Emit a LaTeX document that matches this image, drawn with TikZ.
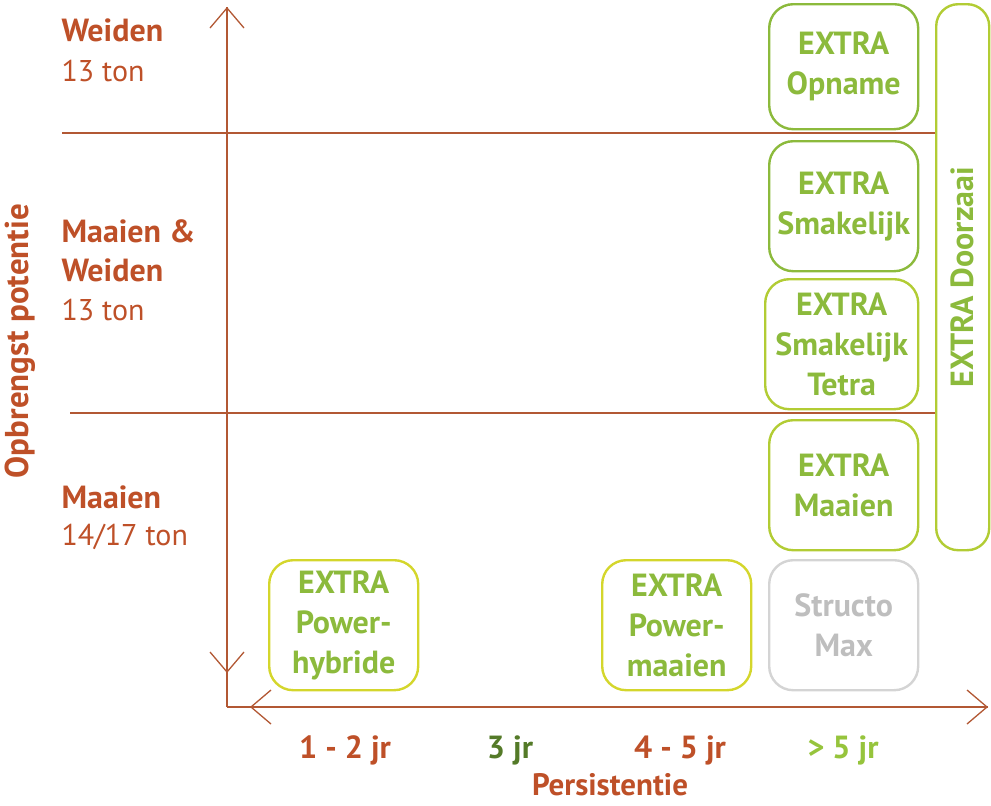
\documentclass[tikz,border=0pt]{standalone}
\usepackage{fontspec}
\setmainfont{PT Sans}
\usetikzlibrary{arrows.meta}
\definecolor{axisbrown}{RGB}{178,88,52}
\definecolor{labelorange}{RGB}{190,80,40}
\definecolor{extragreen}{RGB}{140,186,60}
\definecolor{darkgreen}{RGB}{84,122,40}
\definecolor{lightgreen}{RGB}{150,196,60}
\definecolor{boxgreen}{RGB}{140,186,60}
\definecolor{boxlime}{RGB}{178,204,52}
\definecolor{boxyellow}{RGB}{212,214,44}
\definecolor{boxgrey}{RGB}{212,212,212}
\definecolor{textgrey}{RGB}{190,190,190}

\tikzset{
  axis/.style={axisbrown, line width=1.3pt},
  barb/.style={-{Straight Barb[length=20pt,width=34pt,line width=1.3pt]}},
  mixbox/.style={draw=#1, line width=2.4pt, rounded corners=24pt, anchor=north west,
    inner sep=0pt, align=center, text=extragreen, font=\fontsize{32}{40}\selectfont\bfseries},
  rowhead/.style={anchor=west, labelorange, font=\fontsize{32}{39}\selectfont\bfseries, align=left},
  rowsub/.style={anchor=west, labelorange, font=\fontsize{30}{39}\selectfont},
  tick/.style={inner sep=1pt, font=\fontsize{32}{36}\selectfont\bfseries}
}

\begin{document}
\begin{tikzpicture}[x=1pt, y=-1pt]
        \useasboundingbox (0,0) rectangle (991,806);

        % Axes
        \coordinate (corner) at (227,707);
        \coordinate (ydown) at (227,673);
        \coordinate (yup) at (227,7);
        \coordinate (xleft) at (250,707);
        \coordinate (xright) at (988,707);
        \draw[axis] (corner) -- (ydown);
        \draw[axis] (corner) -- (xleft);
        \draw[axis, barb] (ydown) -- (yup);
        \draw[axis, barb] (yup) -- (ydown);
        \draw[axis, barb] (xleft) -- (xright);
        \draw[axis, barb] (xright) -- (xleft);

        % Mixtures
        \node[mixbox=boxgreen, minimum width=149pt, minimum height=125pt] (opname) at (768,3) {EXTRA\\Opname};
        \node[mixbox=boxgreen, minimum width=149pt, minimum height=130pt] (smakelijk) at (768,140) {EXTRA\\Smakelijk};
        \node[mixbox=boxlime, minimum width=153pt, minimum height=130pt] (tetra) at (764,278) {EXTRA\\Smakelijk\\Tetra};
        \node[mixbox=boxlime, minimum width=149pt, minimum height=130pt] (maaien) at (768,419) {EXTRA\\Maaien};
        \node[mixbox=boxgrey, text=textgrey, minimum width=149pt, minimum height=130pt] (structo) at (768,559) {Structo\\Max};
        \node[mixbox=boxyellow, minimum width=149pt, minimum height=130pt] (hybride) at (268,559) {EXTRA\\Power-\\hybride};
        \node[mixbox=boxyellow, minimum width=149pt, minimum height=130pt] (powermaaien) at (601,559) {EXTRA\\Power-\\maaien};
        \node[mixbox=boxlime, rounded corners=22pt, minimum width=53pt, minimum height=546pt] (doorzaai) at (935,3) {};
        \node[rotate=90, text=extragreen, font=\fontsize{32}{36}\selectfont\bfseries] (doorzaaitext) at (doorzaai.center) {EXTRA Doorzaai};

        % Row dividers
        \coordinate (rowa) at (62,133);
        \coordinate (rowb) at (70,413);
        \draw[axis, line width=1.2pt] (rowa) -- (rowa -| doorzaai.west);
        \draw[axis, line width=1.2pt] (rowb) -- (rowb -| doorzaai.west);

        % Row labels
        \node[rowhead] (weiden) at (58,30) {Weiden};
        \node[rowsub] (weidenton) at (58,71) {13 ton};
        \node[rowhead] (maaienweiden) at (58,251) {Maaien \&\\Weiden};
        \node[rowsub] (maaienweidenton) at (58,310) {13 ton};
        \node[rowhead] (maaienrow) at (58,497) {Maaien};
        \node[rowsub] (maaienton) at (58,537) {14/17 ton};
        \node[rotate=90, labelorange, font=\fontsize{33}{36}\selectfont\bfseries] (yaxis) at (20,341) {Opbrengst potentie};

        % Persistence labels
        \node[tick, labelorange] (jr12) at (345,750) {1 - 2 jr};
        \node[tick, darkgreen] (jr3) at (510,750) {3 jr};
        \node[tick, labelorange] (jr45) at (680,750) {4 - 5 jr};
        \node[tick, lightgreen] (jr5) at (843,750) {> 5 jr};
        \node[tick, labelorange, font=\fontsize{31}{34}\selectfont\bfseries] (xaxis) at (610,785) {Persistentie};
\end{tikzpicture}
\end{document}
